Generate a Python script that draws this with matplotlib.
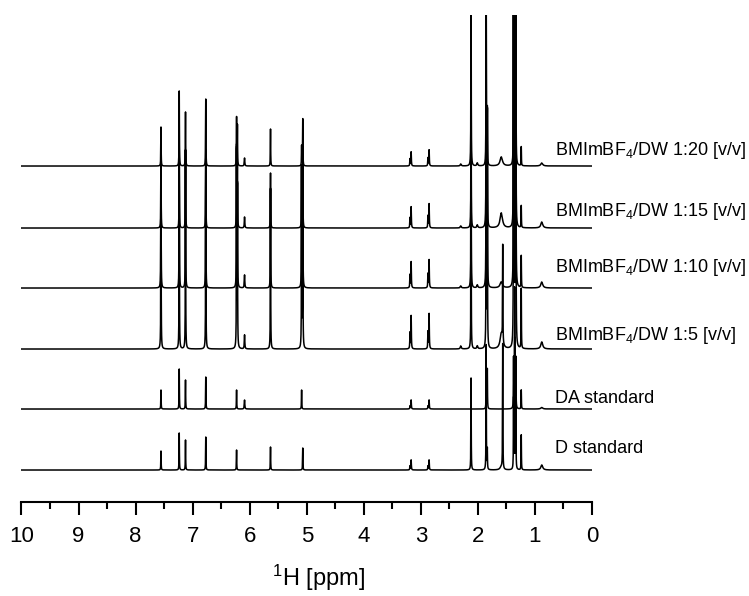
import numpy as np
import matplotlib
matplotlib.use('Agg')
import matplotlib.pyplot as plt

plt.rcParams['font.family'] = 'Liberation Sans'
plt.rcParams['mathtext.fontset'] = 'custom'
plt.rcParams['mathtext.rm'] = 'Liberation Sans'
plt.rcParams['mathtext.default'] = 'regular'

# picos: desplazamiento (ppm) y semiancho (ppm)
ppm_picos = [7.555, 7.235, 7.125, 6.77, 6.23, 6.215, 6.09, 5.635, 5.09, 5.07,
             3.19, 3.17, 2.875, 2.855, 2.30, 2.12, 2.01, 1.855, 1.835, 1.59,
             1.565, 1.375, 1.355, 1.335, 1.24, 0.88]
ancho_picos = [0.003, 0.003, 0.003, 0.003, 0.003, 0.003, 0.005, 0.003, 0.003, 0.003,
               0.004, 0.004, 0.004, 0.004, 0.01, 0.003, 0.01, 0.003, 0.003, 0.025,
               0.003, 0.003, 0.003, 0.003, 0.003, 0.02]

# alturas de cada pico en cada espectro (u.a.)
alt_D = [19, 37, 30, 33, 20, 0, 0, 23, 0, 22, 4, 10, 4, 10, 0, 92, 0, 125, 20, 3,
         125, 70, 130, 70, 35, 5]
alt_DA = [19, 40, 29, 32, 19, 0, 9, 0, 19, 0, 3, 9, 3, 9, 0, 0, 0, 30, 40, 0,
          0, 50, 120, 50, 19, 1.5]
alt_1_5 = [199, 199, 199, 199, 199, 160, 14, 160, 180, 199, 16, 33, 17, 35, 3, 200, 3, 250, 235, 15,
           97, 360, 400, 360, 60, 7]
alt_1_10 = [138, 138, 138, 138, 138, 100, 13, 100, 120, 138, 13, 26, 14, 28, 2, 200, 3, 250, 175, 6,
            0, 300, 340, 300, 32, 6]
alt_1_15 = [78, 78, 78, 78, 78, 60, 11, 55, 60, 78, 10, 21, 12, 24, 2, 160, 3, 250, 115, 15,
            0, 240, 280, 240, 22, 6]
alt_1_20 = [39, 75, 54, 67, 48, 40, 8, 37, 20, 47, 7, 14, 8, 16, 2, 200, 3, 200, 56, 9,
            0, 180, 220, 180, 19, 3]

espectros = [alt_D, alt_DA, alt_1_5, alt_1_10, alt_1_15, alt_1_20]
etiquetas = ['D standard', 'DA standard',
             'BMImBF$_4$/DW 1:5 [v/v]', 'BMImBF$_4$/DW 1:10 [v/v]',
             'BMImBF$_4$/DW 1:15 [v/v]', 'BMImBF$_4$/DW 1:20 [v/v]']

desplaz = [0, 61, 121, 182, 242, 304]
dy_texto = [17, 6.5, 9, 16, 12, 11]

x = np.linspace(0, 10, 20001)

fig = plt.figure(figsize=(7.49, 5.96), dpi=100)
ax = fig.add_axes([0.0287, 0.1577, 0.7617, 0.8171])

for alturas, off, etiqueta, dy in zip(espectros, desplaz, etiquetas, dy_texto):
    y = np.zeros_like(x)
    for p, w, h in zip(ppm_picos, ancho_picos, alturas):
        y += h * w**2 / ((x - p)**2 + w**2)
    ax.plot(x, y + off, color='black', linewidth=1.1)
    ax.text(0.65, off + dy, etiqueta, fontsize=13, ha='left', va='baseline')

ax.set_xlim(10, 0)
ax.set_ylim(-32, 455)
ax.set_xticks(np.arange(0, 11, 1))
ax.set_xticks(np.arange(0.5, 10, 1), minor=True)
ax.tick_params(axis='x', which='major', direction='out', length=9.5, width=1.5,
               labelsize=16, pad=8)
ax.tick_params(axis='x', which='minor', direction='out', length=5, width=1.5)
ax.set_yticks([])
for lado in ['left', 'right', 'top']:
    ax.spines[lado].set_visible(False)
ax.spines['bottom'].set_linewidth(1.5)
ax.set_xlabel('$^1$H [ppm]', fontsize=17)
ax.xaxis.set_label_coords(0.5215, -0.125)

fig.savefig('out.png', dpi=100)
